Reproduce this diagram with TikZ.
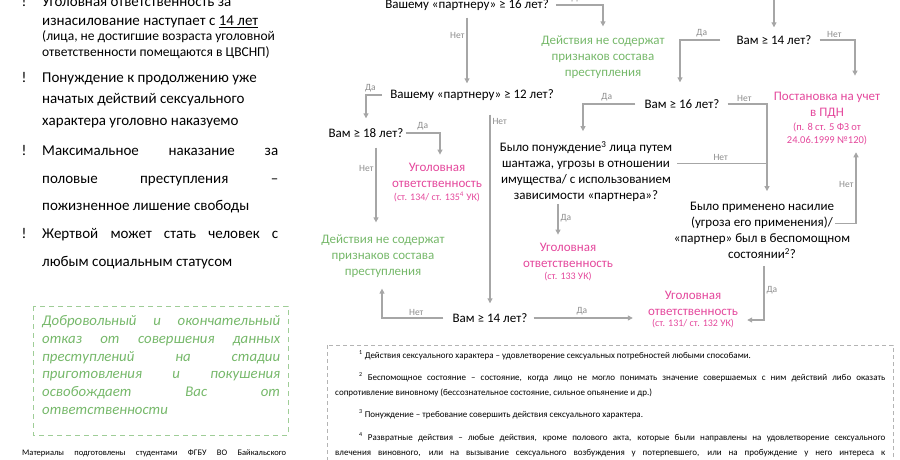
\documentclass[tikz,border=0pt]{standalone}
\usepackage{fontspec}
\setmainfont{Carlito}
\usetikzlibrary{arrows.meta,calc}
\definecolor{OkGreen}{HTML}{76B86A}
\definecolor{LawPink}{HTML}{E4489C}
\definecolor{LineGray}{HTML}{A6A6A6}
\definecolor{TagGray}{HTML}{8C8C8C}
\definecolor{BoxGray}{HTML}{B4B4B4}

\tikzset{
  question/.style={font=\fontsize{13}{16}\selectfont, align=center, inner sep=2pt},
  verdict/.style={font=\fontsize{13}{16}\selectfont, align=center, text=OkGreen, inner sep=2pt},
  liable/.style={font=\fontsize{13}{16}\selectfont, align=center, text=LawPink, inner sep=2pt},
  lawref/.style={font=\fontsize{10}{13}\selectfont, align=center, text=LawPink, inner sep=1pt},
  flow/.style={draw=LineGray, line width=1.1pt, -{Triangle[length=5pt,width=5pt]}},
  tag/.style={font=\fontsize{9.5}{11}\selectfont, text=TagGray, inner sep=2pt},
  leftline/.style={anchor=base west, inner sep=0pt, font=\fontsize{15}{17}\selectfont},
  smallline/.style={anchor=base west, inner sep=0pt, font=\fontsize{13.5}{15}\selectfont},
  refusal/.style={anchor=base west, inner sep=0pt, text=OkGreen, font=\fontsize{14.8}{17}\selectfont\itshape},
  noteline/.style={anchor=base west, inner sep=0pt, font=\fontsize{9}{11}\selectfont},
}

\begin{document}
\begin{tikzpicture}[x=1pt, y=-1pt]
  \useasboundingbox (0,0) rectangle (900,460);
  \clip (0,0) rectangle (900,460);

  % left column
  \foreach \y/\k in {7/a, 82/b, 155/c, 238/d}
    \node[leftline, anchor=base] (bang\k) at (24,\y) {!};
  \node[leftline] (l1) at (42,7) {Уголовная ответственность за};
  \node[leftline] (l2) at (42,26) {изнасилование наступает с \underline{14 лет}};
  \node[smallline] (l3) at (42,41) {(лица, не достигшие возраста уголовной};
  \node[smallline] (l4) at (42,57) {ответственности помещаются в ЦВСНП)};
  \node[leftline] (l5) at (42,82) {Понуждение к продолжению уже};
  \node[leftline] (l6) at (42,103) {начатых действий сексуального};
  \node[leftline] (l7) at (42,125) {характера уголовно наказуемо};
  \node[leftline] (l8) at (42,155) {\makebox[236pt][s]{Максимальное наказание за}};
  \node[leftline] (l9) at (42,183) {\makebox[236pt][s]{половые преступления –}};
  \node[leftline] (l10) at (42,210) {пожизненное лишение свободы};
  \node[leftline] (l11) at (42,238) {\makebox[236pt][s]{Жертвой может стать человек с}};
  \node[leftline] (l12) at (42,266) {любым социальным статусом};

  % voluntary refusal box
  \draw[OkGreen!70, line width=1pt, dash pattern=on 5pt off 4pt] (33,306) rectangle (288,435);
  \node[refusal] (r1) at (42,325) {\makebox[238pt][s]{Добровольный и окончательный}};
  \node[refusal] (r2) at (42,343) {\makebox[238pt][s]{отказ от совершения данных}};
  \node[refusal] (r3) at (42,361) {\makebox[238pt][s]{преступлений на стадии}};
  \node[refusal] (r4) at (42,378) {\makebox[238pt][s]{приготовления и покушения}};
  \node[refusal] (r5) at (42,396) {\makebox[238pt][s]{освобождает Вас от}};
  \node[refusal] (r6) at (42,414) {ответственности};
  \node[noteline, font=\fontsize{8.5}{10}\selectfont] (credit) at (22,455)
    {\makebox[264pt][s]{Материалы подготовлены студентами ФГБУ ВО Байкальского}};

  % flowchart
  \node[question] (q1) at (467,5) {Вашему «партнеру» ≥ 16 лет?};
  \node[verdict] (g1) at (603,57) {Действия не содержат\\признаков состава\\преступления};
  \coordinate (topin) at (774,-5);
  \node[question] (q4) at (774,40) {Вам ≥ 14 лет?};
  \node[liable] (pdn) at (827,105) {Постановка на учет\\в ПДН};
  \node[lawref, font=\fontsize{10.5}{13}\selectfont] (pdnlaw) at (827,134) {(п. 8 ст. 5 ФЗ от\\24.06.1999 №120)};
  \node[question] (q2) at (472,95) {Вашему «партнеру» ≥ 12 лет?};
  \node[question] (q5) at (682,104) {Вам ≥ 16 лет?};
  \node[question] (q3) at (366,133) {Вам ≥ 18 лет?};
  \node[liable] (p134) at (437,175) {Уголовная\\ответственность};
  \node[lawref] (p134law) at (437,197) {(ст. 134/ ст. 135\textsuperscript{4} УК)};
  \node[question] (q6) at (586,171.5) {Было понуждение\textsuperscript{3} лица путем\\шантажа, угрозы в отношении\\имущества/ с использованием\\зависимости «партнера»?};
  \node[question] (q7) at (762,230.5) {Было применено насилие\\(угроза его применения)/\\«партнер» был в беспомощном\\состоянии\textsuperscript{2}?};
  \node[verdict] (g2) at (383,256) {Действия не содержат\\признаков состава\\преступления};
  \node[liable] (p133) at (568,255) {Уголовная\\ответственность};
  \node[lawref] (p133law) at (568,277) {(ст. 133 УК)};
  \node[question] (q8) at (490,318) {Вам ≥ 14 лет?};
  \node[liable] (p131) at (693,303.5) {Уголовная\\ответственность};
  \node[lawref] (p131law) at (693,324) {(ст. 131/ ст. 132 УК)};
  \coordinate (q7in) at ([xshift=5pt]q7.north);

  % connectors
  \draw[flow, shorten <=5pt, shorten >=7pt] (q1.east) -| node[tag, above, pos=0.25] {Да} (g1.north);
  \draw[flow, shorten <=5pt, shorten >=4pt] (q1.south) -- node[tag, left, pos=0.3] {Нет} (q1.south |- q2.north);
  \draw[flow, shorten >=6pt] (topin) -- (q4.north);
  \draw[flow, shorten <=14pt, shorten >=15pt] (q4.west) -| node[tag, above, pos=0.3] {Да} ([xshift=-2pt]q5.north);
  \draw[flow, shorten <=6pt, shorten >=14pt] (q4.east) -| node[tag, above, pos=0.25] {Нет} ([xshift=28pt]pdn.north);
  \draw[flow, shorten <=7pt, shorten >=8pt] (q5.west) -| node[tag, above, pos=0.3] {Да} ([xshift=-3pt]q6.north);
  \draw[flow, shorten <=6pt, shorten >=9pt] (q5.east) -| node[tag, above, pos=0.25] {Нет} (q7in);
  \draw[draw=LineGray, line width=1.1pt, shorten <=3pt] ([yshift=8pt]q6.east) -- node[tag, above] {Нет} ([yshift=8pt]q6.east -| q7in);
  \draw[flow, shorten >=6pt] ([xshift=-28pt]q6.south) -- node[tag, right, pos=0.4] {Да} ([xshift=-28pt]q6.south |- p133.north);
  \draw[flow, shorten >=6pt] ([xshift=-17pt,yshift=7pt]q7.east) -| node[tag, left, pos=0.75] {Нет} ([xshift=29pt]pdnlaw.south);
  \draw[flow, shorten <=5pt, shorten >=12pt] ([xshift=2pt]q7.south) |- node[tag, right, pos=0.25] {Да} ([yshift=4pt]p131law.east);
  \draw[flow, shorten <=6pt, shorten >=8pt] (q2.west) -| node[tag, above, pos=0.4] {Да} (q3.north);
  \draw[flow, shorten <=12pt, shorten >=8pt] ([xshift=18pt]q2.south) -- node[tag, right, pos=0.09] {Нет} ([xshift=18pt]q2.south |- q8.north);
  \draw[flow, shorten >=6pt] (q3.east) -| node[tag, above, pos=0.25] {Да} ([xshift=3pt]p134.north);
  \draw[flow, shorten <=8pt, shorten >=10pt] ([xshift=10pt]q3.south) -- node[tag, left, pos=0.31] {Нет} ([xshift=10pt]q3.south |- g2.north);
  \draw[flow, shorten <=7pt, shorten >=9pt] (q8.west) -| node[tag, above, pos=0.25] {Нет} ([xshift=-1pt]g2.south);
  \draw[flow, shorten <=4pt, shorten >=13pt] (q8.east) -- node[tag, above, pos=0.45] {Да} (q8.east -| p131.west);

  % footnotes
  \draw[BoxGray, line width=0.8pt, dash pattern=on 4pt off 3pt] (327,345) rectangle (893,475);
  \node[noteline] (n1) at (359,358) {\textsuperscript{1} Действия сексуального характера – удовлетворение сексуальных потребностей любыми способами.};
  \node[noteline] (n2) at (359,380) {\makebox[526pt][s]{\textsuperscript{2} Беспомощное состояние – состояние, когда лицо не могло понимать значение совершаемых с ним действий либо оказать}};
  \node[noteline] (n3) at (335,395) {сопротивление виновному (бессознательное состояние, сильное опьянение и др.)};
  \node[noteline] (n4) at (359,417) {\textsuperscript{3} Понуждение – требование совершить действия сексуального характера.};
  \node[noteline] (n5) at (359,440) {\makebox[526pt][s]{\textsuperscript{4} Развратные действия – любые действия, кроме полового акта, которые были направлены на удовлетворение сексуального}};
  \node[noteline] (n6) at (335,455) {\makebox[550pt][s]{влечения виновного, или на вызывание сексуального возбуждения у потерпевшего, или на пробуждение у него интереса к}};
\end{tikzpicture}
\end{document}
